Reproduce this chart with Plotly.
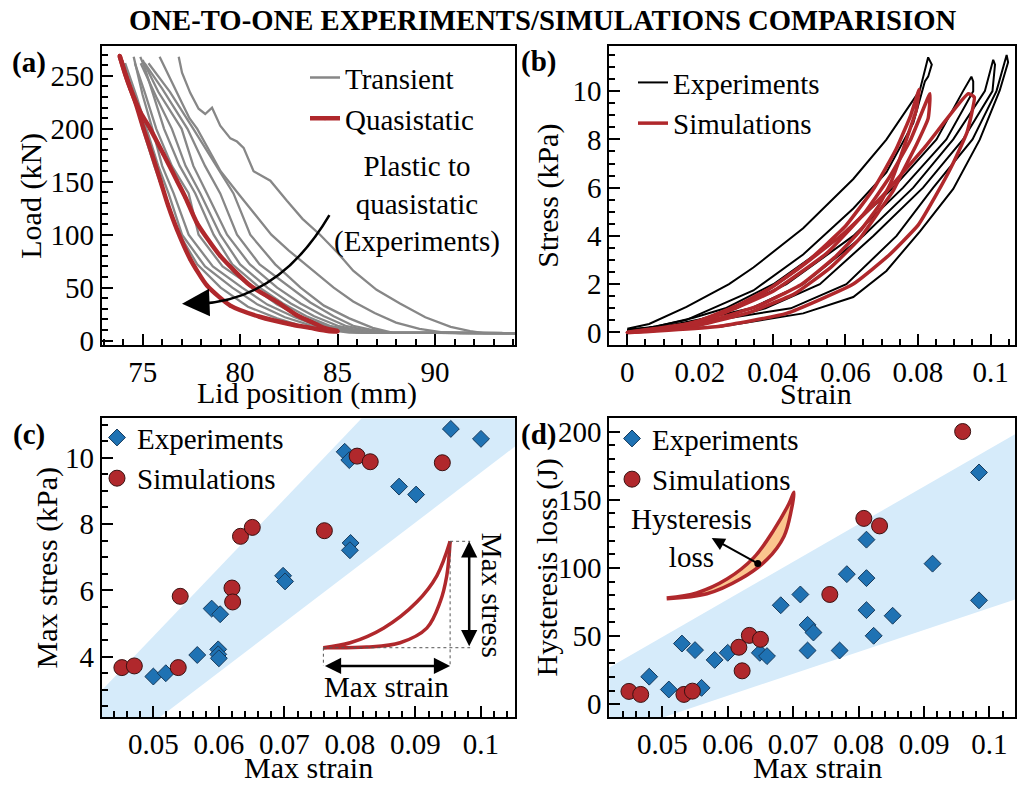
import plotly.graph_objects as go

FONT = "Liberation Serif"
RED = "#b0282c"
GRAY = "#878787"
BLUE = "#1f72b3"
BAND = "#d6ebfa"
ORANGE = "#fbc58e"
W, H = 1017, 789

def px(x):
    return x / W

def py(y):
    return 1 - y / H

# ---------------- (a) load vs lid position ----------------
transient_x = [
    [73.95, 74.5, 75.0, 75.6, 76.1, 76.9, 77.8, 79.0, 80.4, 81.9, 83.3, 84.6, 85.6, 94.1],
    [74.1, 74.7, 75.2, 75.8, 76.33, 77.02, 78.2, 79.6, 80.9, 82.3, 83.7, 84.9, 86.0, 94.1],
    [74.54, 74.7, 75.0, 75.5, 76.0, 76.59, 77.36, 78.6, 80.1, 81.4, 82.8, 84.0, 85.2, 86.2, 94.1],
    [74.6, 75.1, 75.7, 76.5, 77.36, 77.87, 79.1, 80.7, 81.9, 83.2, 84.4, 85.5, 86.5, 94.1],
    [74.88, 75.1, 75.5, 76.1, 76.9, 77.7, 78.64, 79.6, 81.0, 82.2, 83.4, 84.6, 85.7, 86.7, 94.1],
    [74.9, 75.7, 76.5, 77.2, 77.96, 78.98, 80.0, 81.4, 82.6, 83.8, 85.0, 86.0, 87.0, 94.1],
    [75.0, 75.8, 77.0, 77.6, 78.3, 79.33, 80.5, 81.9, 83.1, 84.3, 85.4, 86.4, 87.3, 94.1],
    [75.1, 76.0, 77.3, 78.2, 78.98, 79.84, 81.0, 82.6, 83.6, 84.8, 85.8, 86.8, 87.6, 94.1],
    [75.3, 76.4, 77.6, 78.8, 79.66, 80.52, 81.8, 83.1, 84.3, 85.6, 86.8, 87.8, 94.1],
    [75.87, 76.2, 76.6, 77.0, 77.4, 77.8, 78.4, 79.0, 79.9, 80.8, 81.6, 82.5, 83.6, 84.8, 85.8,
     86.9, 88.0, 89.2, 90.3, 91.3, 94.1],
    [76.85, 77.02, 77.44, 77.87, 78.21, 78.56, 78.98, 79.5, 79.84, 80.18, 80.69, 81.55, 82.4,
     83.2, 84.1, 85.0, 85.8, 87.0, 88.2, 89.5, 90.8, 91.8, 92.5, 94.1],
]
transient_y = [
    [265, 235, 200, 165, 139, 100, 72, 50, 32, 21, 13, 9.5, 7.5, 7],
    [262, 230, 200, 165, 139, 100, 70, 50, 34, 22, 14, 10, 7.5, 7],
    [268, 255, 232, 200, 165, 139, 100, 70, 50, 34, 22, 14, 10, 7.5, 7],
    [262, 235, 200, 165, 139, 100, 70, 50, 34, 22, 14, 10, 7.5, 7],
    [268, 258, 235, 200, 165, 139, 100, 72, 50, 35, 23, 14, 10, 7.5, 7],
    [262, 230, 200, 165, 139, 100, 72, 50, 35, 23, 14, 10, 7.5, 7],
    [265, 235, 200, 165, 139, 100, 72, 50, 35, 23, 14, 10, 7.5, 7],
    [262, 238, 200, 165, 139, 100, 72, 50, 36, 23, 14, 10, 7.5, 7],
    [262, 235, 200, 165, 139, 100, 72, 50, 33, 21, 12, 7.5, 7],
    [268, 255, 240, 225, 210, 200, 180, 160, 139, 118, 100, 85, 68, 50, 37, 26, 17, 11, 8, 7, 7],
    [268, 253, 234, 219, 214, 220, 203, 191, 188, 182, 160, 151, 132, 115, 100, 83, 66, 48, 35,
     22, 13, 9, 7, 7],
]
quasi_x = [
    [73.82, 74.2, 74.63, 75.05, 75.48, 75.91, 76.3, 76.76, 77.44, 78.3, 79.5, 81.0, 82.7, 83.6, 84.5, 85.0],
    [73.82, 74.1, 74.37, 74.88, 75.39, 76.07, 76.76, 77.2, 77.79, 78.98, 80.52, 81.89, 82.91, 83.6, 84.3, 85.0],
]
quasi_y = [
    [269, 247, 225, 200, 176, 151, 128, 105, 77, 52, 33, 22.5, 15, 12, 9, 8.5],
    [269, 252, 238, 216, 200, 176, 151, 135, 111, 80, 52, 36.5, 24, 18, 12, 9],
]

# ---------------- (b) stress vs strain ----------------
exp_loop_x = [
    [0, 0.006, 0.0163, 0.028, 0.0347, 0.0484, 0.0622, 0.0713, 0.0805, 0.0828, 0.0838, 0.0828,
     0.0819, 0.0787, 0.0713, 0.0622, 0.0484, 0.0347, 0.0163, 0.006, 0],
    [0, 0.008, 0.018, 0.027, 0.0402, 0.059, 0.0732, 0.0851, 0.0924, 0.0947, 0.0952,
     0.0952, 0.0878, 0.0759, 0.0622, 0.0438, 0.030, 0.015, 0],
    [0, 0.01, 0.022, 0.034, 0.0484, 0.0649, 0.0787, 0.0897, 0.0984, 0.1007, 0.1012,
     0.1005, 0.0924, 0.0814, 0.0677, 0.053, 0.038, 0.02, 0],
    [0, 0.012, 0.026, 0.045, 0.0603, 0.0741, 0.0842, 0.095, 0.1016, 0.1044, 0.1048,
     0.1025, 0.097, 0.0897, 0.0805, 0.0713, 0.0622, 0.0484, 0.0255, 0],
]
exp_loop_y = [
    [0.15, 0.35, 1.06, 2.0, 2.69, 4.32, 6.36, 7.99, 10.03, 11.4, 11.1, 10.6,
     10.4, 8.67, 6.63, 5.14, 3.23, 1.74, 0.52, 0.2, 0.1],
    [0.1, 0.25, 0.6, 1.0, 2.0, 4.0, 6.0, 8.0, 10.0, 10.6, 10.4,
     10.0, 8.0, 6.0, 4.0, 2.0, 1.0, 0.3, 0.1],
    [0.1, 0.25, 0.6, 1.0, 2.0, 4.0, 6.0, 8.0, 10.0, 11.3, 11.1,
     10.0, 8.0, 6.0, 4.0, 2.0, 1.0, 0.3, 0.1],
    [0.1, 0.25, 0.55, 1.0, 2.0, 4.0, 6.0, 8.0, 10.0, 11.5, 11.2,
     10.03, 7.99, 5.95, 4.18, 2.55, 1.47, 0.79, 0.24, 0.05],
]
sim_loop_x = [
    [0, 0.01, 0.02, 0.03, 0.04, 0.05, 0.06, 0.068, 0.074, 0.078, 0.0803,
     0.0795, 0.0775, 0.075, 0.0725, 0.069, 0.064, 0.057, 0.048, 0.036, 0.022, 0.01, 0],
    [0, 0.02, 0.04, 0.055, 0.065, 0.072, 0.078, 0.0833,
     0.0828, 0.0796, 0.0759, 0.0732, 0.0695, 0.064, 0.056, 0.046, 0.033, 0.018, 0],
    [0, 0.02, 0.035, 0.0475, 0.0595, 0.0695, 0.082, 0.0938, 0.0955,
     0.0935, 0.0893, 0.085, 0.0801, 0.072, 0.0622, 0.0438, 0.025, 0],
]
sim_loop_y = [
    [0, 0.12, 0.5, 1.1, 1.9, 3.0, 4.4, 6.0, 7.6, 9.0, 10.07,
     9.2, 8.3, 7.2, 6.2, 5.2, 4.2, 3.1, 2.0, 1.1, 0.45, 0.12, 0],
    [0, 0.42, 1.7, 3.3, 4.9, 6.4, 8.0, 9.89,
     8.87, 7.79, 6.7, 5.88, 5.07, 3.9, 2.7, 1.6, 0.8, 0.25, 0],
    [0, 0.45, 1.4, 2.69, 4.1, 5.54, 7.7, 9.89, 9.75,
     8.3, 6.9, 5.7, 4.46, 3.2, 2.01, 0.79, 0.25, 0],
]

# ---------------- (c) max stress vs max strain ----------------
c_exp_strain = [0.05, 0.0519, 0.0567, 0.0589, 0.0602, 0.0599, 0.0599, 0.06, 0.0698, 0.0701,
                0.0792, 0.0799, 0.0801, 0.08, 0.0875, 0.0901, 0.0954, 0.10]
c_exp_stress = [3.40, 3.50, 4.05, 5.45, 5.28, 4.22, 4.07, 3.95, 6.44, 6.27,
                10.18, 9.93, 7.43, 7.21, 9.13, 8.89, 10.87, 10.57]
c_sim_strain = [0.0452, 0.0471, 0.0538, 0.0541, 0.062, 0.0621, 0.0633, 0.0651, 0.0761, 0.0811,
                0.0831, 0.0941]
c_sim_stress = [3.67, 3.72, 3.67, 5.82, 6.07, 5.65, 7.63, 7.90, 7.80, 10.05, 9.88, 9.85]
c_band_x = [0.0421, 0.0818, 0.1052, 0.1052, 0.0510, 0.0421]
c_band_y = [2.98, 11.19, 11.19, 10.34, 2.17, 2.17]
inset_load_x = [0.07595, 0.08003, 0.08511, 0.0902, 0.09326, 0.09529]
inset_load_y = [4.27, 4.42, 4.86, 5.65, 6.44, 7.48]
inset_unload_x = [0.07595, 0.08257, 0.08766, 0.09173, 0.09377, 0.09478, 0.09529]
inset_unload_y = [4.27, 4.29, 4.42, 4.86, 5.65, 6.44, 7.48]

# ---------------- (d) hysteresis loss vs max strain ----------------
d_exp_strain = [0.048, 0.051, 0.053, 0.055, 0.056, 0.058, 0.060, 0.0649, 0.066, 0.0681, 0.0711,
                0.0722, 0.0731, 0.0722, 0.0771, 0.0782, 0.0812, 0.0812, 0.0812, 0.0823, 0.0852,
                0.0913, 0.0984, 0.0984]
d_exp_loss = [20.2, 10.8, 44.5, 39.7, 12.0, 32.5, 37.7, 37.7, 35.3, 72.6, 80.5,
              58.2, 52.6, 39.4, 39.4, 95.4, 120.7, 92.5, 69.0, 50.2, 64.9,
              103.1, 170.0, 76.2]
d_sim_strain = [0.0449, 0.0467, 0.0533, 0.0546, 0.0617, 0.0622, 0.0633, 0.065, 0.0756, 0.0808,
                0.0832, 0.0959]
d_sim_loss = [9.4, 7.2, 7.2, 9.6, 41.8, 24.5, 50.5, 47.6, 80.5, 136.3, 130.8, 200.0]
d_band_x = [0.0419, 0.1039, 0.1039, 0.0502, 0.0419]
d_band_y = [26.9, 198.1, 76.9, -9.6, -9.6]
crescent_x = [0.05067, 0.05527, 0.05988, 0.06398, 0.06705, 0.06935, 0.07012,
              0.06971, 0.06859, 0.06603, 0.06193, 0.05681, 0.05067]
crescent_y = [77.9, 81.7, 91.8, 107.5, 127.9, 147.1, 155.5,
              142.3, 123.1, 106.3, 91.8, 81.0, 77.4]

fig = go.Figure()

# (a)
for i, (xs, ys) in enumerate(zip(transient_x, transient_y)):
    fig.add_trace(go.Scatter(x=xs, y=ys, mode="lines", line=dict(color=GRAY, width=2.3),
                             name="Transient", showlegend=(i == 0), legend="legend",
                             xaxis="x", yaxis="y"))
for i, (xs, ys) in enumerate(zip(quasi_x, quasi_y)):
    fig.add_trace(go.Scatter(x=xs, y=ys, mode="lines+markers",
                             line=dict(color=RED, width=4.5, shape="spline", smoothing=0.6),
                             marker=dict(color=RED, size=4),
                             name="Quasistatic", showlegend=(i == 0), legend="legend",
                             xaxis="x", yaxis="y"))

# (b)
for i, (xs, ys) in enumerate(zip(exp_loop_x, exp_loop_y)):
    fig.add_trace(go.Scatter(x=xs, y=ys, mode="lines", line=dict(color="black", width=2),
                             name="Experiments", showlegend=(i == 0), legend="legend2",
                             xaxis="x2", yaxis="y2"))
for i, (xs, ys) in enumerate(zip(sim_loop_x, sim_loop_y)):
    fig.add_trace(go.Scatter(x=xs, y=ys, mode="lines",
                             line=dict(color=RED, width=3.5, shape="spline", smoothing=0.4),
                             name="Simulations", showlegend=(i == 0), legend="legend2",
                             xaxis="x2", yaxis="y2"))

# (c)
fig.add_trace(go.Scatter(x=c_band_x, y=c_band_y, mode="none", fill="toself", fillcolor=BAND,
                         showlegend=False, xaxis="x3", yaxis="y3", hoverinfo="skip"))
fig.add_trace(go.Scatter(x=c_exp_strain, y=c_exp_stress, mode="markers", name="Experiments",
                         marker=dict(symbol="diamond", size=13, color=BLUE,
                                     line=dict(color="#163a5c", width=1)),
                         legend="legend3", xaxis="x3", yaxis="y3"))
fig.add_trace(go.Scatter(x=c_sim_strain, y=c_sim_stress, mode="markers", name="Simulations",
                         marker=dict(symbol="circle", size=16, color=RED,
                                     line=dict(color="#3a1212", width=1)),
                         legend="legend3", xaxis="x3", yaxis="y3"))
fig.add_trace(go.Scatter(x=inset_load_x, y=inset_load_y, mode="lines",
                         line=dict(color=RED, width=3.5, shape="spline"),
                         showlegend=False, xaxis="x3", yaxis="y3"))
fig.add_trace(go.Scatter(x=inset_unload_x, y=inset_unload_y, mode="lines",
                         line=dict(color=RED, width=3.5, shape="spline"),
                         showlegend=False, xaxis="x3", yaxis="y3"))

# (d)
fig.add_trace(go.Scatter(x=d_band_x, y=d_band_y, mode="none", fill="toself", fillcolor=BAND,
                         showlegend=False, xaxis="x4", yaxis="y4", hoverinfo="skip"))
fig.add_trace(go.Scatter(x=d_exp_strain, y=d_exp_loss, mode="markers", name="Experiments",
                         marker=dict(symbol="diamond", size=13, color=BLUE,
                                     line=dict(color="#163a5c", width=1)),
                         legend="legend4", xaxis="x4", yaxis="y4"))
fig.add_trace(go.Scatter(x=d_sim_strain, y=d_sim_loss, mode="markers", name="Simulations",
                         marker=dict(symbol="circle", size=16, color=RED,
                                     line=dict(color="#3a1212", width=1)),
                         legend="legend4", xaxis="x4", yaxis="y4"))
fig.add_trace(go.Scatter(x=crescent_x, y=crescent_y, mode="lines", fill="toself",
                         fillcolor=ORANGE, line=dict(color=RED, width=3.5, shape="spline"),
                         showlegend=False, xaxis="x4", yaxis="y4"))
fig.add_trace(go.Scatter(x=[0.06459], y=[103.2], mode="markers",
                         marker=dict(color="black", size=7), showlegend=False,
                         xaxis="x4", yaxis="y4"))

TICK_SIZE = 29
TITLE_SIZE = 30
LEG_SIZE = 29
tickfont = dict(family=FONT, size=TICK_SIZE, color="black")

def axis(domain, rng, anchor, minor_dtick, **kw):
    d = dict(domain=domain, range=rng, anchor=anchor, showline=True, linecolor="black",
             linewidth=2, mirror=True, ticks="inside", ticklen=11, tickwidth=2,
             tickcolor="black", showgrid=False, zeroline=False, tickfont=tickfont,
             minor=dict(ticks="inside", ticklen=6, tickwidth=1.5, tickcolor="black",
                        dtick=minor_dtick, showgrid=False))
    d.update(kw)
    return d

left_dom = [px(101.7), px(515)]
right_dom = [px(609.3), px(1015)]
top_dom = [py(349), py(45)]
bot_dom = [py(727.3), py(423.3)]
strain_ticks = [0.05, 0.06, 0.07, 0.08, 0.09, 0.1]
strain_text = ["0.05", "0.06", "0.07", "0.08", "0.09", "0.1"]

legend_common = dict(xanchor="left", yanchor="top", bgcolor="rgba(0,0,0,0)",
                     font=dict(family=FONT, size=LEG_SIZE, color="black"), tracegroupgap=0)

fig.update_layout(
    width=W, height=H, margin=dict(l=0, r=0, t=0, b=0),
    paper_bgcolor="white", plot_bgcolor="white",
    font=dict(family=FONT, color="black"),
    xaxis=axis(left_dom, [72.9, 94.1], "y", 1, dtick=5, tick0=75),
    yaxis=axis(top_dom, [-4.4, 278], "x", 10, dtick=50, tick0=0),
    xaxis2=axis(right_dom, [-0.00495, 0.1067], "y2", 0.005,
                tickvals=[0, 0.02, 0.04, 0.06, 0.08, 0.1],
                ticktext=["0", "0.02", "0.04", "0.06", "0.08", "0.1"]),
    yaxis2=axis(top_dom, [-0.53, 11.86], "x2", 0.5, dtick=2, tick0=0),
    xaxis3=axis(left_dom, [0.04212, 0.10519], "y3", 0.002,
                tickvals=strain_ticks, ticktext=strain_text),
    yaxis3=axis(bot_dom, [2.17, 11.19], "x3", 0.5, tickvals=[4, 6, 8, 10]),
    xaxis4=axis(right_dom, [0.0419, 0.1039], "y4", 0.002,
                tickvals=strain_ticks, ticktext=strain_text),
    yaxis4=axis(bot_dom, [-9.6, 209.7], "x4", 10, dtick=50, tick0=0),
    legend=dict(x=px(305), y=py(51), **legend_common),
    legend2=dict(x=px(633), y=py(56), **legend_common),
    legend3=dict(x=px(97), y=py(417), **legend_common),
    legend4=dict(x=px(612), y=py(418), **legend_common),
)

def txt(text, x, y, size=TITLE_SIZE, angle=0, bold=False, **kw):
    t = f"<b>{text}</b>" if bold else text
    d = dict(text=t, x=px(x), y=py(y), xref="paper", yref="paper", showarrow=False,
             xanchor="center", yanchor="middle", textangle=angle,
             font=dict(family=FONT, size=size, color="black"))
    d.update(kw)
    return d

annotations = [
    txt("ONE-TO-ONE EXPERIMENTS/SIMULATIONS COMPARISION", 543, 18, size=28.7, bold=True),
    txt("(a)", 29, 62, size=29, bold=True), txt("(b)", 538, 61, size=29, bold=True),
    txt("(c)", 29, 440, size=29, bold=True), txt("(d)", 538, 440, size=29, bold=True),
    txt("Load (kN)", 31, 197, angle=-90),
    txt("Stress (kPa)", 548, 197, angle=-90),
    txt("Max stress (kPa)", 47, 575, angle=-90),
    txt("Hysteresis loss (J)", 547, 575, angle=-90),
    txt("Lid position (mm)", 307, 398),
    txt("Strain", 816, 398),
    txt("Max strain", 308, 778),
    txt("Max strain", 817, 778),
    txt("Plastic to<br>quasistatic<br>(Experiments)", 417, 205, size=29),
    # arrowhead of curved arrow in (a)
    dict(x=77.02, y=34.9, xref="x", yref="y", ax=26, ay=-1, text="", showarrow=True,
         arrowhead=2, arrowsize=2.2, arrowwidth=2.5, arrowcolor="black", standoff=0),
    # inset (c)
    dict(x=0.09529, y=3.72, ax=0.07595, ay=3.72, xref="x3", yref="y3", axref="x3", ayref="y3",
         text="", showarrow=True, arrowhead=2, arrowside="end+start", arrowsize=1.3,
         arrowwidth=2.5, arrowcolor="black", standoff=0, startstandoff=0),
    dict(x=0.0982, y=7.48, ax=0.0982, ay=4.27, xref="x3", yref="y3", axref="x3", ayref="y3",
         text="", showarrow=True, arrowhead=2, arrowside="end+start", arrowsize=1.3,
         arrowwidth=2.5, arrowcolor="black", standoff=0, startstandoff=0),
    dict(text="Max strain", x=0.08562, y=3.08, xref="x3", yref="y3", showarrow=False,
         font=dict(family=FONT, size=29, color="black")),
    dict(text="Max stress", x=0.1016, y=5.85, xref="x3", yref="y3", showarrow=False,
         textangle=90, font=dict(family=FONT, size=29, color="black")),
    # inset (d)
    dict(text="Hysteresis<br>loss", x=0.0545, y=122, xref="x4", yref="y4", showarrow=False,
         font=dict(family=FONT, size=29, color="black")),
    dict(x=0.05755, y=121.9, ax=0.06459, ay=103.2, xref="x4", yref="y4", axref="x4",
         ayref="y4", text="", showarrow=True, arrowhead=2, arrowsize=1.3, arrowwidth=2,
         arrowcolor="black", standoff=0),
]
fig.update_layout(annotations=annotations)

dot = dict(color="#555555", width=1, dash="dot")
shapes = [
    dict(type="path", xref="x", yref="y", path="M 84.58,118.4 Q 81.98,37.4 77.8,34.6",
         line=dict(color="black", width=2.5)),
    dict(type="line", xref="x3", yref="y3", x0=0.09529, y0=7.48, x1=0.09835, y1=7.48, line=dot),
    dict(type="line", xref="x3", yref="y3", x0=0.09529, y0=7.48, x1=0.09529, y1=3.72, line=dot),
    dict(type="line", xref="x3", yref="y3", x0=0.07595, y0=4.27, x1=0.09835, y1=4.27, line=dot),
    dict(type="line", xref="x3", yref="y3", x0=0.07595, y0=4.27, x1=0.07595, y1=3.72, line=dot),
]
fig.update_layout(shapes=shapes)

fig.write_html("out.html")
